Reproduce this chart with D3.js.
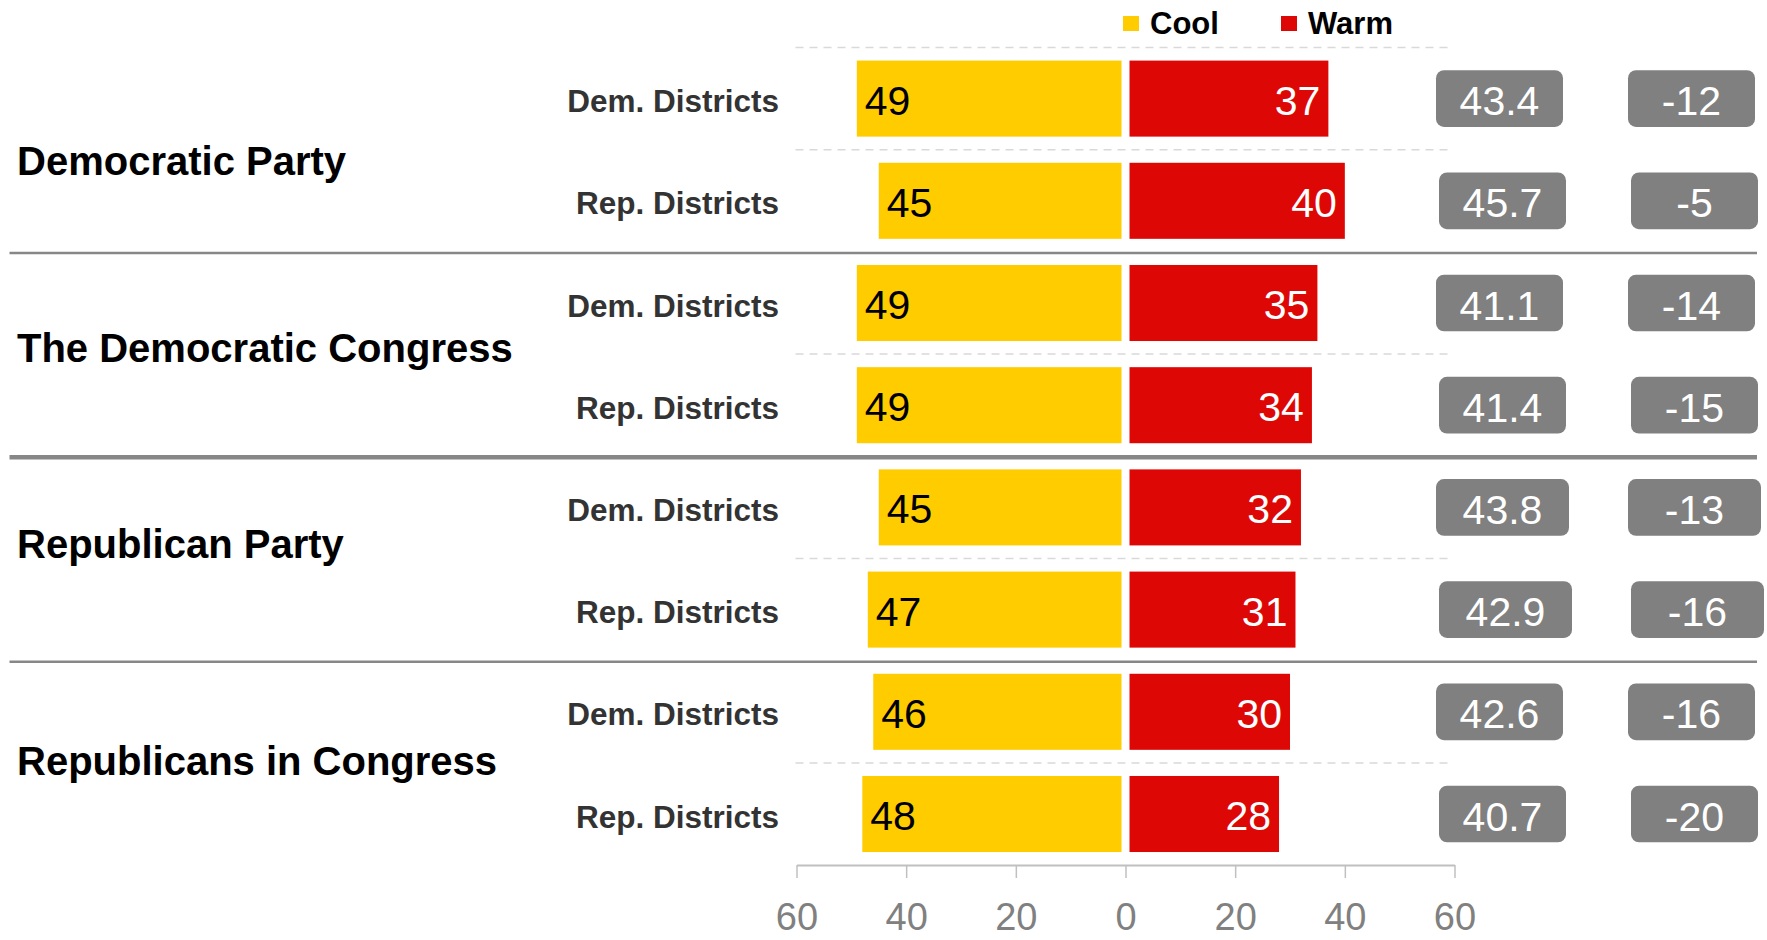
<!DOCTYPE html>
<html>
<head>
<meta charset="utf-8">
<script src="https://cdn.jsdelivr.net/npm/d3@7"></script>
<style>
  html, body { margin: 0; padding: 0; background: #ffffff; }
  svg { display: block; font-family: "Liberation Sans", Arial, sans-serif; }
</style>
</head>
<body>
<svg id="chart" width="1767" height="940"></svg>
<script>
// ---- data ----
const groups = ["Democratic Party", "The Democratic Congress", "Republican Party", "Republicans in Congress"];
const districts = ["Dem. Districts", "Rep. Districts"];
const coolValues = [49, 45, 49, 49, 45, 47, 46, 48];
const warmValues = [37, 40, 35, 34, 32, 31, 30, 28];
const meanValues = [43.4, 45.7, 41.1, 41.4, 43.8, 42.9, 42.6, 40.7];
const netValues = [-12, -5, -14, -15, -13, -16, -16, -20];
const tickValues = [-60, -40, -20, 0, 20, 40, 60];
const legendLabels = ["Cool", "Warm"];

// ---- layout ----
const W = 1767, H = 940;
const colors = { cool: "#FFCC00", warm: "#DD0806", box: "#808080" };
const groupLabelShift = [25, 8, -1, 12];
const boxWidths = [127, 127, 127, 127, 133, 133, 127, 127];
const boxColLeft = [1436, 1628];

const rows = [];
groups.forEach((g, gi) => districts.forEach((d, di) => {
  const i = gi * 2 + di;
  rows.push({ id: i, group: g, gi, district: d, di, cool: coolValues[i], warm: warmValues[i], mean: meanValues[i], net: netValues[i] });
}));

const svg = d3.select("#chart");
svg.append("rect").attr("width", W).attr("height", H).attr("fill", "#fff");

const x = d3.scaleLinear().domain([-60, 60]).range([796.5, 1454.5]);
const y = d3.scaleBand().domain(rows.map(r => r.id)).range([47.5, 47.5 + 102.2 * 8])
  .paddingInner(0.256).paddingOuter(0.128);
const step = y.step();
const boundary = i => y.range()[0] + i * step;
const gap = 4;

// dashed row separators (top + within groups)
const dashedIdx = [0, 1, 3, 5, 7];
svg.append("g").selectAll("line").data(dashedIdx).join("line")
  .attr("x1", 795.5).attr("x2", 1448)
  .attr("y1", d => boundary(d)).attr("y2", d => boundary(d))
  .attr("stroke", "#d9d9d9").attr("stroke-width", 1.5).attr("stroke-dasharray", "8,6");

// solid group separators
const solidIdx = [2, 4, 6];
const solidW = { 2: 2.5, 4: 4.5, 6: 2.5 };
svg.append("g").selectAll("line").data(solidIdx).join("line")
  .attr("x1", 9.5).attr("x2", 1757)
  .attr("y1", d => boundary(d) + 1).attr("y2", d => boundary(d) + 1)
  .attr("stroke", "#878787").attr("stroke-width", d => solidW[d]);

// bars
const barG = svg.append("g");
barG.selectAll("rect.cool").data(rows).join("rect").attr("class", "cool")
  .attr("x", d => x(-d.cool)).attr("width", d => x(0) - gap - x(-d.cool))
  .attr("y", d => y(d.id)).attr("height", y.bandwidth())
  .attr("fill", colors.cool);
barG.selectAll("rect.warm").data(rows).join("rect").attr("class", "warm")
  .attr("x", x(0) + gap).attr("width", d => x(d.warm) - x(0) - gap)
  .attr("y", d => y(d.id)).attr("height", y.bandwidth())
  .attr("fill", colors.warm);

const cy = d => y(d.id) + y.bandwidth() / 2;

// bar labels
barG.selectAll("text.cl").data(rows).join("text").attr("class", "cl")
  .attr("x", d => x(-d.cool) + 8).attr("y", d => cy(d) + 16)
  .attr("font-size", 41).attr("fill", "#000").text(d => d.cool);
barG.selectAll("text.wl").data(rows).join("text").attr("class", "wl")
  .attr("x", d => x(d.warm) - 8).attr("y", d => cy(d) + 16)
  .attr("text-anchor", "end").attr("font-size", 41).attr("fill", "#fff").text(d => d.warm);

// sub-labels
svg.append("g").selectAll("text").data(rows).join("text")
  .attr("x", 779).attr("y", d => cy(d) + 13.5)
  .attr("text-anchor", "end").attr("font-size", 31.5).attr("font-weight", "bold")
  .attr("fill", "#333").text(d => d.district);

// group labels
svg.append("g").selectAll("text").data(groups).join("text")
  .attr("x", 17).attr("y", (d, i) => boundary(i * 2 + 1) + groupLabelShift[i])
  .attr("font-size", 40).attr("font-weight", "bold").attr("fill", "#000").text(d => d);

// gray value boxes
const boxH = 56.7;
[["mean", d => d.mean.toFixed(1)], ["net", d => String(d.net)]].forEach(([key, fmt], ci) => {
  const g = svg.append("g");
  const left = d => boxColLeft[ci] + (d.di === 1 ? 3 : 0);
  g.selectAll("rect").data(rows).join("rect")
    .attr("x", left).attr("width", d => boxWidths[d.id])
    .attr("y", d => cy(d) - boxH / 2).attr("height", boxH)
    .attr("rx", 8).attr("fill", colors.box);
  g.selectAll("text").data(rows).join("text")
    .attr("x", d => left(d) + boxWidths[d.id] / 2).attr("y", d => cy(d) + 16.5)
    .attr("text-anchor", "middle").attr("font-size", 41).attr("fill", "#fff")
    .text(fmt);
});

// axis
const axis = d3.axisBottom(x).tickValues(tickValues).tickFormat(d => Math.abs(d))
  .tickSize(13).tickSizeOuter(0);
const axG = svg.append("g").attr("transform", "translate(0,865)").call(axis);
axG.select(".domain").attr("stroke", "#c0c0c0").attr("stroke-width", 2);
axG.selectAll(".tick line").attr("stroke", "#c0c0c0").attr("stroke-width", 1.5);
axG.selectAll(".tick text").attr("dy", null).attr("y", 65)
  .attr("font-size", 38).attr("fill", "#808080")
  .attr("font-family", "'Liberation Sans', Arial, sans-serif");

// legend
const legX = [1123, 1281];
const legColors = [colors.cool, colors.warm];
const leg = svg.append("g").selectAll("g").data(legendLabels).join("g")
  .attr("transform", (d, i) => `translate(${legX[i]},0)`);
leg.append("rect").attr("x", 0).attr("y", 16).attr("width", 16).attr("height", 15)
  .attr("fill", (d, i) => legColors[i]);
leg.append("text").attr("x", 27).attr("y", 34.3).attr("font-size", 31)
  .attr("font-weight", "bold").attr("fill", "#000").text(d => d);
</script>
</body>
</html>
